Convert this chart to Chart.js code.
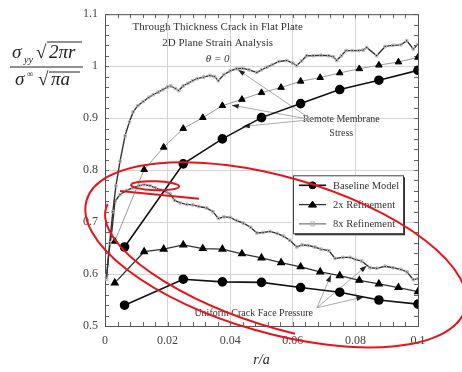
<!DOCTYPE html>
<html>
<head>
<meta charset="utf-8">
<script src="https://cdn.jsdelivr.net/npm/chart.js@4.4.1/dist/chart.umd.min.js"></script>
<style>
  body { margin: 0; background: #fff; }
  #wrap { width: 462px; height: 372px; }
</style>
</head>
<body>
<div id="wrap"><canvas id="myChart" width="462" height="372"></canvas></div>
<script>
// Data
// =======================================================
var xBase = [0.00625, 0.025, 0.0375, 0.05, 0.0625, 0.075, 0.0875, 0.1];
var baseUpper = [0.652, 0.812, 0.860, 0.901, 0.928, 0.955, 0.973, 0.992];
var baseLower = [0.540, 0.590, 0.585, 0.584, 0.574, 0.565, 0.550, 0.542];

var x2x = [0.003125, 0.0125, 0.01875, 0.025, 0.03125, 0.0375, 0.04375, 0.05,
           0.05625, 0.0625, 0.06875, 0.075, 0.08125, 0.0875, 0.09375, 0.1];
var ref2Upper = [0.663, 0.801, 0.844, 0.880, 0.901, 0.924, 0.936, 0.949,
                 0.959, 0.971, 0.978, 0.987, 0.995, 1.002, 1.008, 1.017];
var ref2Lower = [0.583, 0.643, 0.648, 0.656, 0.649, 0.648, 0.639, 0.631,
                 0.622, 0.614, 0.604, 0.597, 0.588, 0.581, 0.574, 0.566];

var x8Upper = [0.0005, 0.0015, 0.0025, 0.0035, 0.0048, 0.0064, 0.0078, 0.009, 0.0105, 0.0122,
               0.014, 0.0154, 0.017, 0.0185, 0.02, 0.021, 0.0225, 0.0235, 0.025, 0.0265,
               0.028, 0.0295, 0.0315, 0.0335, 0.035, 0.0362, 0.038, 0.04, 0.042, 0.044,
               0.046, 0.0485, 0.05, 0.0517, 0.0535, 0.0555, 0.058, 0.06, 0.0612, 0.0628,
               0.0644, 0.0665, 0.069, 0.0715, 0.073, 0.074, 0.0755, 0.077, 0.079, 0.081,
               0.0825, 0.0836, 0.0868, 0.0895, 0.092, 0.0945, 0.0964, 0.0985, 0.1];
var ref8Upper = [0.59, 0.66, 0.72, 0.77, 0.817, 0.866, 0.893, 0.912, 0.924, 0.932,
                 0.940, 0.945, 0.950, 0.955, 0.960, 0.962, 0.957, 0.953, 0.962, 0.967,
                 0.972, 0.976, 0.979, 0.982, 0.980, 0.972, 0.984, 0.991, 0.995, 0.996,
                 0.993, 0.988, 0.993, 0.998, 1.003, 1.009, 1.011, 1.006, 1.001, 1.010,
                 1.020, 1.020, 1.021, 1.020, 1.018, 1.011, 1.020, 1.030, 1.030, 1.030,
                 1.031, 1.036, 1.020, 1.038, 1.040, 1.041, 1.049, 1.033, 1.042];

var x8Lower = [0.0005, 0.0012, 0.0021, 0.0032, 0.0048, 0.0069, 0.009, 0.011, 0.0125, 0.0144,
               0.016, 0.0176, 0.0195, 0.0208, 0.0222, 0.024, 0.0261, 0.028, 0.03, 0.0325,
               0.0345, 0.0362, 0.038, 0.04, 0.042, 0.0442, 0.0465, 0.0485, 0.0505, 0.0527,
               0.055, 0.057, 0.059, 0.0613, 0.063, 0.065, 0.067, 0.069, 0.0715, 0.0735,
               0.076, 0.0783, 0.08, 0.082, 0.0847, 0.0868, 0.0895, 0.092, 0.0945, 0.0965,
               0.0985, 0.1];
var ref8Lower = [0.597, 0.640, 0.677, 0.740, 0.753, 0.761, 0.766, 0.770, 0.772, 0.770,
                 0.766, 0.762, 0.758, 0.754, 0.742, 0.737, 0.734, 0.733, 0.730, 0.727,
                 0.720, 0.707, 0.710, 0.709, 0.703, 0.698, 0.690, 0.679, 0.680, 0.682,
                 0.678, 0.673, 0.665, 0.652, 0.656, 0.655, 0.652, 0.648, 0.645, 0.630,
                 0.632, 0.632, 0.628, 0.625, 0.612, 0.611, 0.615, 0.612, 0.609, 0.604,
                 0.589, 0.591];

var xTicks = [0, 0.02, 0.04, 0.06, 0.08, 0.1];
var yTicks = [0.5, 0.6, 0.7, 0.8, 0.9, 1, 1.1];
var seriesNames = ["Baseline Model", "2x Refinement", "8x Refinement"];

function pts(xs, ys) {
    return xs.map(function (x, i) { return { x: x, y: ys[i] }; });
}

var SERIF = "'Liberation Serif', 'DejaVu Serif', serif";

// Styles for each refinement level
// =======================================================
var baseStyle = {
    borderColor: "#111", borderWidth: 1.6, pointStyle: "circle", pointRadius: 4,
    pointBackgroundColor: "#000", pointBorderColor: "#000"
};
var twoStyle = {
    borderColor: "#333", borderWidth: 1.3, pointStyle: "triangle", pointRadius: 3.8,
    pointBackgroundColor: "#000", pointBorderColor: "#000"
};
var eightStyle = {
    borderColor: "#333", borderWidth: 1.4, pointStyle: "rect", pointRadius: 1.8,
    pointBackgroundColor: "rgba(255,255,255,0)", pointBorderColor: "#b5b5b5", pointBorderWidth: 1
};

function ds(label, data, style, extra) {
    return Object.assign({ label: label, data: data, showLine: true, tension: 0 }, style, extra || {});
}

// Extra drawing: frame, minor ticks, text, arrows, legend, red marks
// =======================================================
function arrow(ctx, x1, y1, x2, y2) {
    ctx.beginPath();
    ctx.moveTo(x1, y1);
    ctx.lineTo(x2, y2);
    ctx.stroke();
    var a = Math.atan2(y2 - y1, x2 - x1);
    ctx.beginPath();
    ctx.moveTo(x2, y2);
    ctx.lineTo(x2 - 7 * Math.cos(a) + 2.5 * Math.sin(a), y2 - 7 * Math.sin(a) - 2.5 * Math.cos(a));
    ctx.lineTo(x2 - 7 * Math.cos(a) - 2.5 * Math.sin(a), y2 - 7 * Math.sin(a) + 2.5 * Math.cos(a));
    ctx.closePath();
    ctx.fill();
}

var extras = {
    id: "extras",
    beforeDatasetsDraw: function (chart) {
        var ctx = chart.ctx, ca = chart.chartArea, xs = chart.scales.x, ys = chart.scales.y;
        ctx.save();
        ctx.strokeStyle = "#666";
        ctx.lineWidth = 1;
        // minor ticks, inward
        for (var v = 0.5; v <= 1.1001; v += 0.02) {
            var py = Math.round(ys.getPixelForValue(v)) + 0.5;
            ctx.beginPath();
            ctx.moveTo(ca.left, py); ctx.lineTo(ca.left + 4, py);
            ctx.moveTo(ca.right, py); ctx.lineTo(ca.right - 4, py);
            ctx.stroke();
        }
        for (var u = 0; u <= 0.1001; u += 0.004) {
            var px = Math.round(xs.getPixelForValue(u)) + 0.5;
            ctx.beginPath();
            ctx.moveTo(px, ca.bottom); ctx.lineTo(px, ca.bottom - 4);
            ctx.moveTo(px, ca.top); ctx.lineTo(px, ca.top + 4);
            ctx.stroke();
        }
        // frame
        ctx.strokeStyle = "#555";
        ctx.strokeRect(ca.left + 0.5, ca.top + 0.5, ca.right - ca.left, ca.bottom - ca.top);

        // title inside plot
        ctx.fillStyle = "#333";
        ctx.textAlign = "center";
        ctx.textBaseline = "middle";
        var cx = xs.getPixelForValue(0.036);
        ctx.font = "11px " + SERIF;
        ctx.fillText("Through Thickness Crack in Flat Plate", cx, ca.top + 13);
        ctx.fillText("2D Plane Strain Analysis", cx, ca.top + 29);
        ctx.font = "italic 11px " + SERIF;
        ctx.fillText("\u03b8 = 0", cx, ca.top + 45);

        // annotation texts and leader lines
        ctx.font = "10px " + SERIF;
        ctx.fillText("Remote Membrane", xs.getPixelForValue(0.0755), ys.getPixelForValue(0.897));
        ctx.fillText("Stress", xs.getPixelForValue(0.0755), ys.getPixelForValue(0.871));
        ctx.fillText("Uniform Crack Face Pressure", xs.getPixelForValue(0.0475), ys.getPixelForValue(0.525));

        ctx.strokeStyle = "#aaa";
        ctx.fillStyle = "#222";
        ctx.lineWidth = 1;
        var sx = xs.getPixelForValue(0.066), sy = ys.getPixelForValue(0.897);
        arrow(ctx, sx, sy, xs.getPixelForValue(0.0425), ys.getPixelForValue(0.993));
        arrow(ctx, sx, sy, xs.getPixelForValue(0.0405), ys.getPixelForValue(0.925));
        arrow(ctx, sx, sy, xs.getPixelForValue(0.0440), ys.getPixelForValue(0.884));
        var tx = xs.getPixelForValue(0.0677), ty = ys.getPixelForValue(0.535);
        arrow(ctx, tx, ty, xs.getPixelForValue(0.0722), ys.getPixelForValue(0.598));
        arrow(ctx, tx, ty, xs.getPixelForValue(0.0836), ys.getPixelForValue(0.616));
        arrow(ctx, tx, ty, xs.getPixelForValue(0.0826), ys.getPixelForValue(0.556));
        ctx.restore();
    },
    afterDraw: function (chart) {
        var ctx = chart.ctx, ca = chart.chartArea, xs = chart.scales.x, ys = chart.scales.y;
        ctx.save();

        // legend box
        var bl = ca.left + 188, bt = ys.getPixelForValue(0.79), bw = 110, bh = 58;
        ctx.fillStyle = "#333";
        ctx.fillRect(bl + 2, bt + 2, bw, bh);
        ctx.fillStyle = "#fff";
        ctx.fillRect(bl, bt, bw, bh);
        ctx.strokeStyle = "#444";
        ctx.lineWidth = 1;
        ctx.strokeRect(bl + 0.5, bt + 0.5, bw, bh);
        var styles = [baseStyle, twoStyle, eightStyle];
        ctx.font = "10.5px " + SERIF;
        ctx.textAlign = "left";
        ctx.textBaseline = "middle";
        for (var i = 0; i < 3; i++) {
            var ly = bt + 10 + i * 19.3;
            var st = styles[i];
            ctx.strokeStyle = i === 2 ? "#555" : st.borderColor;
            ctx.lineWidth = i === 2 ? 1 : st.borderWidth;
            ctx.beginPath();
            ctx.moveTo(bl + 6, ly); ctx.lineTo(bl + 33, ly);
            ctx.stroke();
            ctx.fillStyle = st.pointBackgroundColor;
            ctx.strokeStyle = st.pointBorderColor;
            ctx.lineWidth = st.pointBorderWidth || 1;
            ctx.beginPath();
            if (st.pointStyle === "circle") ctx.arc(bl + 19.5, ly, 3.5, 0, Math.PI * 2);
            else if (st.pointStyle === "triangle") {
                ctx.moveTo(bl + 19.5, ly - 3.5); ctx.lineTo(bl + 23.5, ly + 2.5); ctx.lineTo(bl + 15.5, ly + 2.5); ctx.closePath();
            } else ctx.rect(bl + 17.5, ly - 2, 4, 4);
            ctx.fill(); ctx.stroke();
            ctx.fillStyle = "#333";
            ctx.fillText(seriesNames[i], bl + 40, ly + 0.5);
        }

        // y axis title: the normalised stress fraction
        ctx.fillStyle = "#222";
        ctx.strokeStyle = "#222";
        ctx.textAlign = "left";
        ctx.textBaseline = "alphabetic";
        ctx.font = "italic 19px " + SERIF;
        ctx.fillText("\u03c3", 12, 58);
        ctx.font = "italic 10px " + SERIF;
        ctx.fillText("yy", 24, 63);
        ctx.font = "19px " + SERIF;
        ctx.fillText("\u221a", 36, 58);
        ctx.font = "italic 19px " + SERIF;
        ctx.fillText("2\u03c0r", 49, 58);
        ctx.lineWidth = 1.2;
        ctx.beginPath();
        ctx.moveTo(47, 42); ctx.lineTo(82, 42);
        ctx.moveTo(10, 67); ctx.lineTo(83, 67);
        ctx.moveTo(49, 72); ctx.lineTo(80, 72);
        ctx.stroke();
        ctx.font = "italic 19px " + SERIF;
        ctx.fillText("\u03c3", 15, 85);
        ctx.font = "9px " + SERIF;
        ctx.fillText("\u221e", 27, 77);
        ctx.font = "19px " + SERIF;
        ctx.fillText("\u221a", 38, 85);
        ctx.font = "italic 19px " + SERIF;
        ctx.fillText("\u03c0a", 51, 85);

        // x axis title
        ctx.font = "italic 14px " + SERIF;
        ctx.textAlign = "center";
        ctx.fillText("r/a", (ca.left + ca.right) / 2, 364);

        // red hand-drawn marks on the reference
        ctx.strokeStyle = "#e5141b";
        ctx.lineWidth = 2;
        var ex = xs.getPixelForValue(0.0546), ey = ys.getPixelForValue(0.637);
        ctx.beginPath();
        ctx.ellipse(ex, ey, 197, 78, 16 * Math.PI / 180, 0, Math.PI * 2);
        ctx.stroke();
        ctx.beginPath();
        ctx.ellipse(ex + 10, ey + 8, 188, 66, 17 * Math.PI / 180, Math.PI * 0.45, Math.PI * 1.02);
        ctx.stroke();
        var sx2 = xs.getPixelForValue(0.0160), sy2 = ys.getPixelForValue(0.77);
        ctx.beginPath();
        ctx.ellipse(sx2, sy2, 24, 4.5, 0.03, 0, Math.PI * 2);
        ctx.stroke();
        ctx.beginPath();
        ctx.moveTo(xs.getPixelForValue(0.0048), ys.getPixelForValue(0.760));
        ctx.lineTo(xs.getPixelForValue(0.030), ys.getPixelForValue(0.745));
        ctx.stroke();
        ctx.restore();
    }
};

// Build the chart
// =======================================================
var ctx = document.getElementById("myChart");

var myChart = new Chart(ctx, {
    type: "scatter",
    data: {
        datasets: [
            ds(seriesNames[0], pts(xBase, baseUpper), baseStyle),
            ds(seriesNames[0], pts(xBase, baseLower), baseStyle),
            ds(seriesNames[1], pts(x2x, ref2Upper), twoStyle, { borderColor: "#9a9a9a", borderWidth: 1 }),
            ds(seriesNames[1], pts(x2x, ref2Lower), twoStyle),
            ds(seriesNames[2], pts(x8Upper, ref8Upper), eightStyle),
            ds(seriesNames[2], pts(x8Lower, ref8Lower), eightStyle)
        ]
    },
    options: {
        responsive: false,
        animation: false,
        layout: { padding: { left: 0, top: 12, right: 44, bottom: 0 } },
        plugins: {
            legend: { display: false },
            tooltip: { enabled: false }
        },
        scales: {
            x: {
                type: "linear",
                min: 0,
                max: 0.1,
                afterBuildTicks: function (scale) {
                    scale.ticks = xTicks.map(function (v) { return { value: v }; });
                },
                afterFit: function (scale) { scale.height = 46; },
                ticks: {
                    padding: 8,
                    color: "#444",
                    font: { family: SERIF, size: 12 },
                    callback: function (v) { return String(Math.round(v * 100) / 100); }
                },
                grid: { color: "#d4d4d4", drawTicks: false },
                border: { display: true, color: "#555" }
            },
            y: {
                min: 0.5,
                max: 1.1,
                afterBuildTicks: function (scale) {
                    scale.ticks = yTicks.map(function (v) { return { value: v }; });
                },
                afterFit: function (scale) { scale.width = 105; },
                ticks: {
                    padding: 7,
                    color: "#444",
                    font: { family: SERIF, size: 12 },
                    callback: function (v) { return String(Math.round(v * 10) / 10); }
                },
                grid: { color: "#d4d4d4", drawTicks: false },
                border: { display: true, color: "#555" }
            }
        }
    },
    plugins: [extras]
});
</script>
</body>
</html>
